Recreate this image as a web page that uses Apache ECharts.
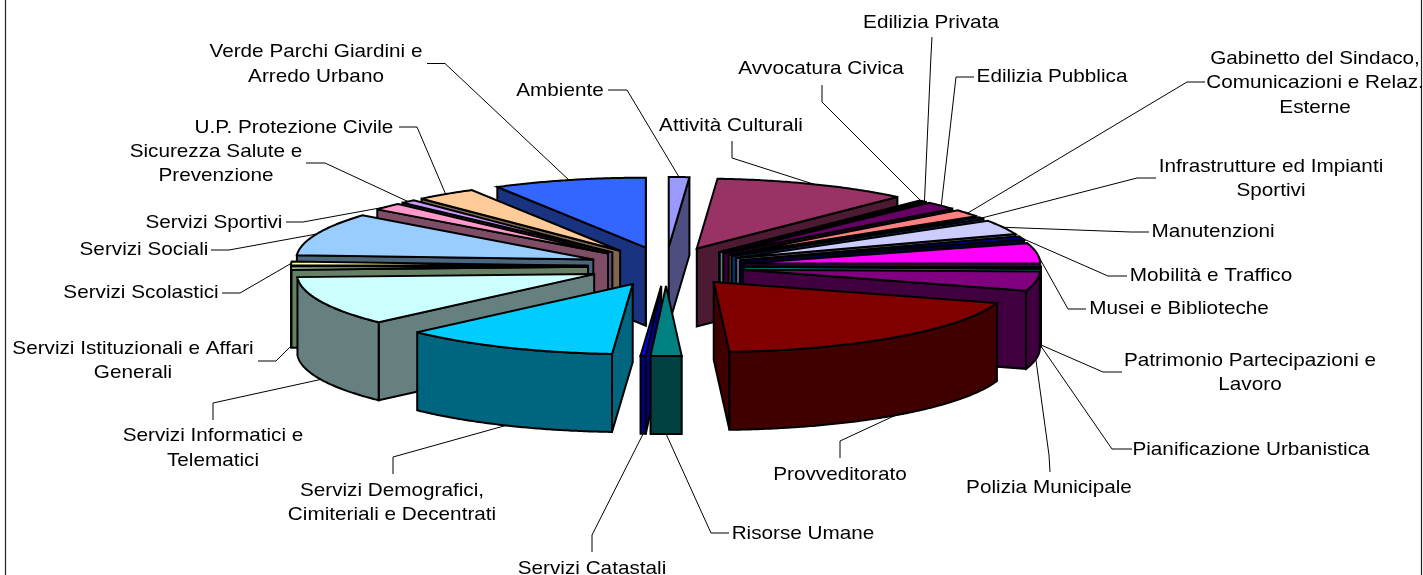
<!DOCTYPE html>
<html>
<head>
<meta charset="utf-8">
<title>Ripartizione per settore</title>
<style>
  html, body { margin: 0; background: #fff; }
  #main { width: 1423px; height: 575px; }
</style>
</head>
<body>
<div id="main"></div>
<script src="https://cdn.jsdelivr.net/npm/echarts@6/dist/echarts.min.js"></script>
<script>
const categories = [
  'Ambiente', 'Attività Culturali', 'Avvocatura Civica', 'Edilizia Privata', 'Edilizia Pubblica',
  'Gabinetto del Sindaco,\nComunicazioni e Relaz.\nEsterne', 'Infrastrutture ed Impianti\nSportivi',
  'Manutenzioni', 'Mobilità e Traffico', 'Musei e Biblioteche', 'Patrimonio Partecipazioni e\nLavoro',
  'Pianificazione Urbanistica', 'Polizia Municipale', 'Provveditorato', 'Risorse Umane',
  'Servizi Catastali', 'Servizi Demografici,\nCimiteriali e Decentrati', 'Servizi Informatici e\nTelematici',
  'Servizi Istituzionali e Affari\nGenerali', 'Servizi Scolastici', 'Servizi Sociali', 'Servizi Sportivi',
  'Sicurezza Salute e\nPrevenzione', 'U.P. Protezione Civile', 'Verde Parchi Giardini e\nArredo Urbano'
]
// share of the total, in percent
const values = [
  1.11, 10.69, 0.19, 0.22, 1.81, 1.67, 0.42, 3.33, 0.83, 4.72, 0.19, 0.22, 4.47,
  19.28, 1.67, 0.28, 11.81, 11.39, 0.83, 0.83, 9.86, 1.67, 0.83, 3.33, 8.33
]
const colors = [
  '#9999FF', '#993366', '#FFFFCC', '#CCFFFF', '#660066', '#FF8080', '#0066CC', '#CCCCFF', '#000080',
  '#FF00FF', '#FFFF00', '#00FFFF', '#800080', '#800000', '#008080', '#0000FF', '#00CCFF', '#CCFFFF',
  '#CCFFCC', '#FFFF99', '#99CCFF', '#FF99CC', '#CC99FF', '#FFCC99', '#3366FF'
]
// label centre [x, y], one per category
const labelPos = [
  [560, 90], [731, 125], [821, 68], [931, 22], [1052, 76], [1315, 82], [1271, 178], [1213, 231],
  [1211, 275], [1179, 308], [1250, 372], [1251, 449], [1049, 487], [840, 474], [803, 533], [592, 568],
  [392, 502], [213, 447.5], [133, 360], [141, 292], [144, 249], [214, 222], [216, 163], [294, 127], [316, 63.5]
]
// leader line from the label: two points, the slice end comes from the pie itself
const leaderPts = [
  [[608, 90], [627, 90]], [[732, 141], [732, 158]], [[822, 85], [822, 102]], [[932, 37], [931, 55]],
  [[974, 77], [956, 77]], [[1205, 82], [1187, 82]], [[1156, 178], [1137, 178]], [[1149, 232], [1131, 232]],
  [[1127, 276], [1108, 276]], [[1086, 309], [1068, 309]], [[1122, 372], [1103, 372]], [[1132, 449], [1112, 449]],
  [[1050, 472], [1049, 455]], [[840, 458], [840, 441]], [[729, 533], [711, 533]], [[592, 552], [592, 535]],
  [[393, 474], [393, 457]], [[213, 420], [213, 403]], [[258, 361], [276, 361]], [[222, 293], [240, 293]],
  [[211, 250], [229, 250]], [[286, 222], [303, 222]], [[306, 163], [325, 163]], [[399, 127], [417, 127]],
  [[427, 63.5], [445, 63.5]]
]

const cx = 666
const cy = 266.5
const rx = 297
const ry = 70
const explodeX = 78
const explodeY = 19.5
const depth = 78
const fontSize = 19
const textStretch = 1.09
const textShiftY = 1

const total = values.reduce((a, b) => a + b, 0)
const rad = d => d * Math.PI / 180

let acc = 0
const slices = values.map((v, i) => {
  const start = acc
  acc += v / total * 360
  const end = acc
  const mid = (start + end) / 2
  return {
    i,
    start,
    end,
    mid,
    ax: cx + explodeX * Math.sin(rad(mid)),
    ay: cy - explodeY * Math.cos(rad(mid))
  }
})

function rim (s, deg) {
  return [s.ax + rx * Math.sin(rad(deg)), s.ay - ry * Math.cos(rad(deg))]
}

function arcPts (s, from, to) {
  const pts = []
  const n = Math.max(2, Math.ceil((to - from) * 2))
  for (let k = 0; k <= n; k++) pts.push(rim(s, from + (to - from) * k / n))
  return pts
}

function darken (hex) {
  const n = parseInt(hex.slice(1), 16)
  const c = [n >> 16, (n >> 8) & 255, n & 255].map(v => Math.round(v / 2))
  return 'rgb(' + c.join(',') + ')'
}

const edge = { stroke: '#000', lineWidth: 2, lineJoin: 'miter', miterLimit: 4 }

function poly (points, fill, z2) {
  return { type: 'polygon', z2, shape: { points }, style: Object.assign({ fill }, edge) }
}

function down (pts) {
  return pts.map(p => [p[0], p[1] + depth]).reverse()
}

function renderSlice (params, api) {
  const s = slices[api.value(0)]
  const top = colors[s.i]
  const side = darken(top)
  const apex = [s.ax, s.ay]
  const z = params.dataIndex * 10
  const children = []
  if (Math.sin(rad(s.start)) < 0) {
    const seg = [apex, rim(s, s.start)]
    children.push(poly(seg.concat(down(seg)), side, z))
  }
  if (Math.sin(rad(s.end)) > 0) {
    const seg = [apex, rim(s, s.end)]
    children.push(poly(seg.concat(down(seg)), side, z))
  }
  const from = Math.max(s.start, 90)
  const to = Math.min(s.end, 270)
  if (to > from) {
    const seg = arcPts(s, from, to)
    children.push(poly(seg.concat(down(seg)), side, z + 1))
  }
  children.push(poly([apex].concat(arcPts(s, s.start, s.end)), top, z + 2))
  return { type: 'group', children }
}

function renderLabel (params, api) {
  const s = slices[api.value(0)]
  const end = rim(s, s.mid)
  if (s.mid > 90 && s.mid < 270) end[1] += depth
  return {
    type: 'group',
    children: [
      {
        type: 'polyline',
        shape: { points: leaderPts[s.i].concat([end]) },
        style: { stroke: '#000', lineWidth: 1, fill: null }
      },
      {
        type: 'text',
        x: labelPos[s.i][0],
        y: labelPos[s.i][1] + textShiftY,
        scaleX: textStretch,
        style: {
          text: categories[s.i],
          x: 0,
          y: 0,
          align: 'center',
          verticalAlign: 'middle',
          lineHeight: 24.5,
          fontSize,
          fontFamily: 'Liberation Sans',
          fill: '#000'
        }
      }
    ]
  }
}

// back slices first, so the front ones paint over them
const drawOrder = slices.slice().sort((a, b) => a.ay - b.ay).map(s => [s.i])

const chart = echarts.init(document.getElementById('main'), null, { renderer: 'canvas' })
chart.setOption({
  animation: false,
  backgroundColor: '#fff',
  graphic: [{
    type: 'rect',
    z: 0,
    shape: { x: 5.5, y: -5, width: 1416, height: 590 },
    style: { fill: '#fff', stroke: '#222', lineWidth: 1.2 },
    silent: true
  }],
  series: [
    { type: 'custom', coordinateSystem: 'none', silent: true, z: 2, clip: false, data: drawOrder, renderItem: renderSlice },
    { type: 'custom', coordinateSystem: 'none', silent: true, z: 3, clip: false, data: slices.map(s => [s.i]), renderItem: renderLabel }
  ]
})
</script>
</body>
</html>
